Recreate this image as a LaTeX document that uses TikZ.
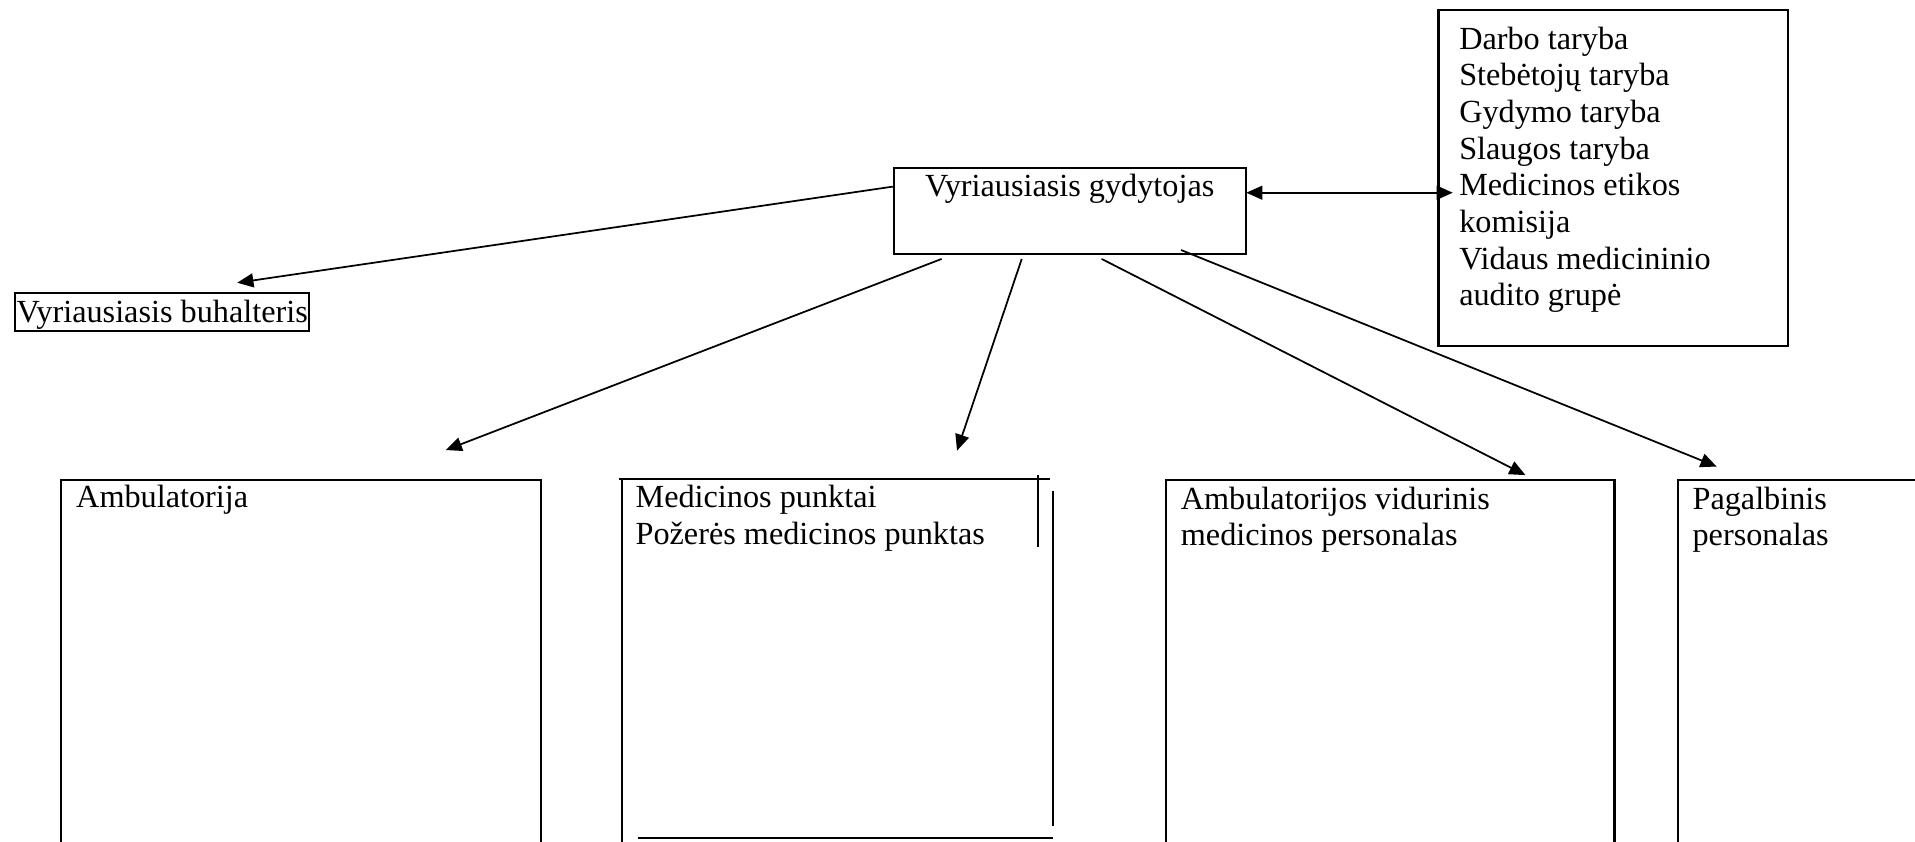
\documentclass[tikz,border=0pt]{standalone}
\usepackage{fontspec}
\setmainfont{Liberation Serif}
\usetikzlibrary{arrows.meta}
\begin{document}
\begin{tikzpicture}[x=0.4545pt,y=-0.4545pt,
  every node/.style={font=\fontsize{12pt}{13.64pt}\selectfont},
  box/.style={draw, line width=0.8pt, inner sep=0pt, anchor=north west},
  bare/.style={inner sep=0pt, anchor=north west},
  tipb/.tip={Triangle[length=6pt,width=5.2pt]},
  conn/.style={line width=0.65pt, -tipb},
  edge/.style={line width=0.8pt}]
\useasboundingbox (0,0) rectangle (1568,689);
\clip (0,0) rectangle (1568,689);

% Vyriausiasis gydytojas
\node[box, minimum width=130.9pt, text height=10.5pt, text depth=21.5pt, align=center] (vg) at (731,136.5) {Vyriausiasis gydytojas};

% councils box
\node[box, inner xsep=7.7pt, text height=14.5pt, text depth=110.4pt] (rb) at (1177,7.6)
  {\parbox[t]{114.6pt}{\raggedright Darbo taryba\\ Stebėtojų taryba\\ Gydymo taryba\\ Slaugos taryba\\ Medicinos etikos\\ komisija\\ Vidaus medicininio\\ audito grupė}};

% chief accountant
\node[box, inner xsep=0.6pt, text height=11.1pt, text depth=3pt] (vb) at (11.5,239) {Vyriausiasis buhalteris};

% bottom boxes
\node[box, minimum width=178.6pt, inner xsep=5.7pt, text height=10.45pt, text depth=138.6pt] (amb) at (49,392)
  {\parbox[t]{167.2pt}{\raggedright Ambulatorija}};
\node[bare, minimum width=160.9pt, inner xsep=5.45pt, text height=10.45pt, text depth=138.6pt] (mp) at (508,392)
  {\parbox[t]{150pt}{\raggedright Medicinos punktai\\ Požerės medicinos punktas}};
\node[box, minimum width=166.8pt, inner xsep=5.45pt, text height=10.9pt, text depth=138pt] (avm) at (954,392)
  {\parbox[t]{155.9pt}{\raggedright Ambulatorijos vidurinis\\ medicinos personalas}};
\node[box, minimum width=113.6pt, inner xsep=5.45pt, text height=10.9pt, text depth=138pt] (pag) at (1373,392)
  {\parbox[t]{102.7pt}{\raggedright Pagalbinis\\ personalas}};

% irregular outline of Medicinos punktai box
\draw[edge] (507,392) -- (860,392);
\draw[edge] (509,392) -- (509,700);
\draw[edge] (850,389) -- (850,448);
\draw[edge] (862,402) -- (862,676);
\draw[edge] (522,686) -- (862,686);

% connector end points
\coordinate (s1) at (731,152.8);
\coordinate (t1) at (194.3,231.5);
\coordinate (s2) at (771,212);
\coordinate (t2) at (365,368.5);
\coordinate (s3) at (836.6,212);
\coordinate (t3) at (783.6,369);
\coordinate (s4) at (902,212);
\coordinate (t4) at (1249,389);
\coordinate (s5) at (967,204.7);
\coordinate (t5) at (1405.6,382);
\coordinate (b1) at (1020.5,157.8);
\coordinate (b2) at (1189.5,157.8);

\draw[conn] (s1) -- (t1);
\draw[conn] (s2) -- (t2);
\draw[conn] (s3) -- (t3);
\draw[conn] (s4) -- (t4);
\draw[conn] (s5) -- (t5);
\draw[line width=0.65pt, tipb-tipb] (b1) -- (b2);
\end{tikzpicture}
\end{document}
